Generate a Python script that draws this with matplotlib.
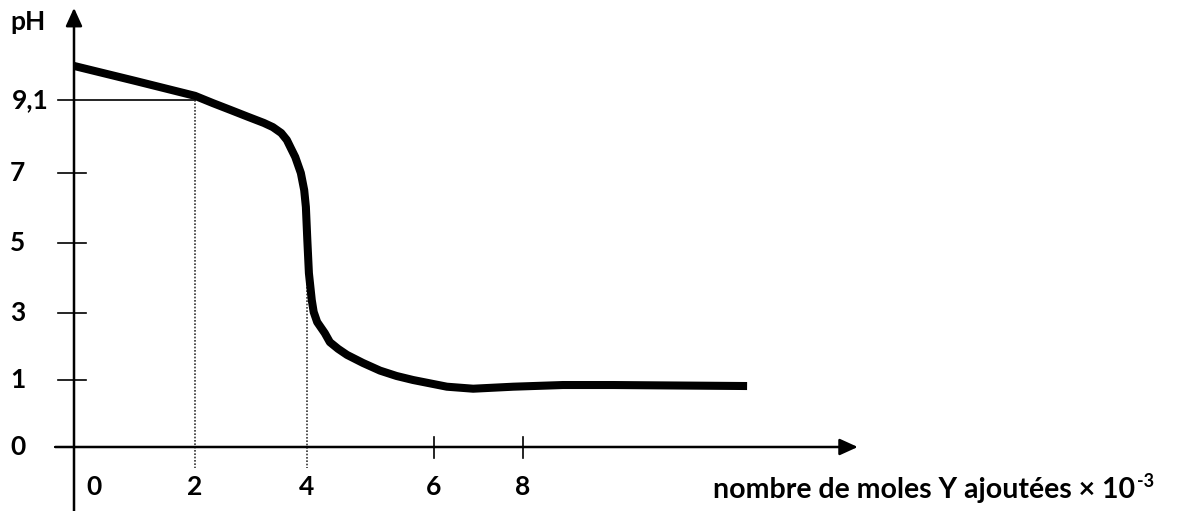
import numpy as np
import matplotlib
matplotlib.use('Agg')
import matplotlib.pyplot as plt

plt.rcParams['font.family'] = ['Lato', 'DejaVu Sans']
plt.rcParams['font.weight'] = 'bold'

# courbe de titrage
moles = [0, 1.01, 2.0, 2.32, 2.64, 2.94, 3.23, 3.39, 3.54, 3.64, 3.71, 3.79, 3.89,
         3.95, 3.98, 4.005, 4.03, 4.075, 4.105, 4.16, 4.28, 4.36, 4.49, 4.63, 4.88,
         5.15, 5.41, 5.67, 6.29, 6.88, 7.78, 8.74, 9.67, 12.15]
ph = [10.08, 9.65, 9.22, 9.01, 8.81, 8.62, 8.44, 8.32, 8.15, 7.95, 7.72, 7.46, 7.0,
      6.51, 6.03, 5.09, 4.14, 3.37, 3.03, 2.73, 2.40, 2.13, 1.93, 1.75, 1.51,
      1.28, 1.12, 1.0, 0.90, 0.87, 0.90, 0.925, 0.925, 0.91]

yticks = [0, 1, 3, 5, 7]
xticks = [0, 2, 4, 6, 8]
x_small_ticks = [6, 8]
ph_demi = 9.1
x_demi = 2
x_eq = 4

# le dessin n'est pas a l'echelle: graduations espacees a la main
x_ref = [-10, 0, 2, 4, 6, 8, 40]
x_pix = [74 - 605, 74, 195, 307, 434, 523, 523 + 32 * 54]
y_ref = [-10, 0, 1, 3, 5, 7, 9.1, 30]
y_pix = [64 - 670, 64, 131, 198, 268, 338, 411, 411 + 20.9 * 34.76]


def fx(v):
    return np.interp(v, x_ref, x_pix)


def fx_inv(p):
    return np.interp(p, x_pix, x_ref)


def fy(v):
    return np.interp(v, y_ref, y_pix)


def fy_inv(p):
    return np.interp(p, y_pix, y_ref)


fig = plt.figure(figsize=(11.79, 5.11), dpi=100)
ax = fig.add_axes([0, 0, 1, 1])
ax.set_xscale('function', functions=(fx, fx_inv))
ax.set_yscale('function', functions=(fy, fy_inv))
ax.set_xlim(fx_inv(0), fx_inv(1179))
ax.set_ylim(fy_inv(0), fy_inv(511))
ax.axis('off')

# axes avec fleches
arrow = dict(arrowstyle='-|>,head_length=0.55,head_width=0.25', lw=1.8, color='black',
             shrinkA=0, shrinkB=0, mutation_scale=20)
ax.annotate('', xy=(0, 11.75), xytext=(0, -1.2), arrowprops=arrow)
ax.annotate('', xy=(14.2, 0), xytext=(-0.31, 0), arrowprops=arrow)

fs = 19
# graduations
for t in yticks:
    if t == 0:
        ax.plot([-0.31, 0], [t, t], color='black', lw=1.2)
    else:
        ax.plot([-0.27, 0.2], [t, t], color='black', lw=1.2)
    ax.text(-0.93, t, str(t), ha='center', va='center', fontsize=fs)
for t in x_small_ticks:
    ax.plot([t, t], [-0.16, 0.15], color='black', lw=1.2)
for t in xticks:
    xt = 0.33 if t == 0 else t
    ax.text(xt, -0.6, str(t), ha='center', va='center', fontsize=fs)

ax.text(-0.76, 11.34, 'pH', ha='center', va='center', fontsize=fs)
ax.text(-0.73, ph_demi, '9,1', ha='center', va='center', fontsize=fs)

# lignes de construction
ax.plot([-0.26, x_demi], [ph_demi, ph_demi], color='black', lw=1.2)
ax.plot([x_demi, x_demi], [ph_demi, -0.31], color='#333333', lw=1.2, ls=(0, (1, 1)))
ax.plot([x_eq, x_eq], [4.03, -0.31], color='#333333', lw=1.2, ls=(0, (1, 1)))

# courbe pH
ax.plot(moles, ph, color='black', lw=5.8, solid_capstyle='butt', solid_joinstyle='round')

lab = ax.text(11.52, -0.64, 'nombre de moles Y ajoutées × 10', ha='left', va='center',
              fontsize=20.5)
ax.annotate('-3', xy=(1, 1), xycoords=lab, xytext=(1, 3), textcoords='offset points',
            ha='left', va='top', fontsize=13)

fig.savefig('out.png', dpi=100)
